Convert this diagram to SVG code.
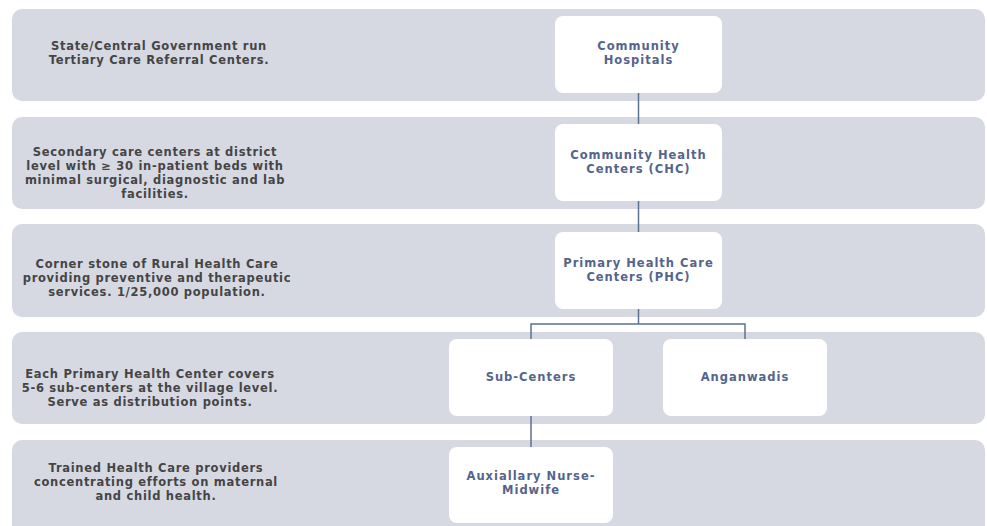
<svg xmlns="http://www.w3.org/2000/svg" width="987" height="526" viewBox="0 0 987 526">
<style>
.band{fill:#d6d9e2}
.box{fill:#ffffff}
.lt{font-family:"DejaVu Sans","Liberation Sans",sans-serif;font-size:11.5px;letter-spacing:0.7px;font-weight:bold;fill:#454545;text-anchor:middle}
.nt{font-family:"DejaVu Sans","Liberation Sans",sans-serif;font-size:11.5px;letter-spacing:1px;font-weight:bold;fill:#55648c;text-anchor:middle}
.con{stroke:#5d7192;stroke-width:1.5;fill:none}
</style>
<rect width="987" height="526" fill="#ffffff"/>
<g id="bands">
<rect class="band" x="12" y="9" width="973" height="92" rx="10"/>
<rect class="band" x="12" y="117" width="973" height="92" rx="10"/>
<rect class="band" x="12" y="224" width="973" height="93" rx="10"/>
<rect class="band" x="12" y="332" width="973" height="92" rx="10"/>
<rect class="band" x="12" y="440" width="973" height="100" rx="10"/>
</g>
<g id="desc1"><text class="lt" x="159" y="50">State/Central Government run</text><text class="lt" x="159" y="64">Tertiary Care Referral Centers.</text></g>
<g id="desc2"><text class="lt" x="155" y="156">Secondary care centers at district</text><text class="lt" x="155" y="170">level with ≥ 30 in-patient beds with</text><text class="lt" x="155" y="184">minimal surgical, diagnostic and lab</text><text class="lt" x="155" y="198">facilities.</text></g>
<g id="desc3"><text class="lt" x="157" y="268">Corner stone of Rural Health Care</text><text class="lt" x="157" y="282">providing preventive and therapeutic</text><text class="lt" x="157" y="296">services. 1/25,000 population.</text></g>
<g id="desc4"><text class="lt" x="150" y="378">Each Primary Health Center covers</text><text class="lt" x="150" y="392">5-6 sub-centers at the village level.</text><text class="lt" x="150" y="406">Serve as distribution points.</text></g>
<g id="desc5"><text class="lt" x="156" y="472">Trained Health Care providers</text><text class="lt" x="156" y="486">concentrating efforts on maternal</text><text class="lt" x="156" y="500">and child health.</text></g>
<g id="connectors">
<path class="con" d="M638.5 93V124M638.5 201V232M638.5 309V324M531 339V324H745V339M531 416V447"/>
</g>
<g id="n1"><rect class="box" x="555" y="16" width="167" height="77" rx="8"/><text class="nt" x="638.5" y="50">Community</text><text class="nt" x="638.5" y="64">Hospitals</text></g>
<g id="n2"><rect class="box" x="555" y="124" width="167" height="77" rx="8"/><text class="nt" x="638.5" y="159">Community Health</text><text class="nt" x="638.5" y="173">Centers (CHC)</text></g>
<g id="n3"><rect class="box" x="555" y="232" width="167" height="77" rx="8"/><text class="nt" x="638.5" y="267">Primary Health Care</text><text class="nt" x="638.5" y="281">Centers (PHC)</text></g>
<g id="n4"><rect class="box" x="449" y="339" width="164" height="77" rx="8"/><text class="nt" x="531" y="381">Sub-Centers</text></g>
<g id="n5"><rect class="box" x="663" y="339" width="164" height="77" rx="8"/><text class="nt" x="745" y="381">Anganwadis</text></g>
<g id="n6"><rect class="box" x="449" y="447" width="164" height="76" rx="8"/><text class="nt" x="531" y="480">Auxiallary Nurse-</text><text class="nt" x="531" y="494">Midwife</text></g>
</svg>
